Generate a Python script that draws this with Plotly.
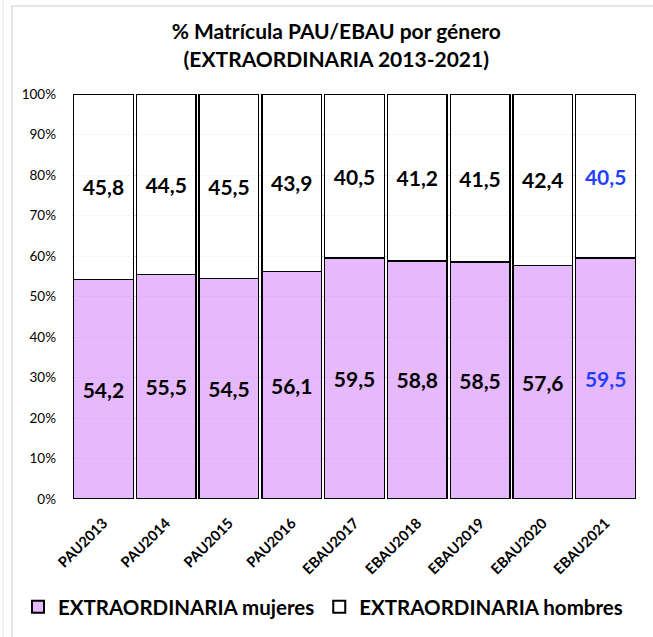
import plotly.graph_objects as go

categories = ["PAU2013", "PAU2014", "PAU2015", "PAU2016", "EBAU2017",
              "EBAU2018", "EBAU2019", "EBAU2020", "EBAU2021"]
mujeres = [54.2, 55.5, 54.5, 56.1, 59.5, 58.8, 58.5, 57.6, 59.5]
hombres = [45.8, 44.5, 45.5, 43.9, 40.5, 41.2, 41.5, 42.4, 40.5]
tick_vals = [0, 10, 20, 30, 40, 50, 60, 70, 80, 90, 100]
tick_text = [f"{v}%" for v in tick_vals]

label_colors = ["#000000"] * 8 + ["#1F3FFF"]

def fmt(v):
    return f"{v:.1f}".replace(".", ",")

FONT = "Lato"

fig = go.Figure()
fig.add_trace(go.Bar(
    x=categories, y=mujeres, name="<b>EXTRAORDINARIA mujeres</b>",
    marker=dict(color="rgba(226,172,251,0.85)", line=dict(color="#000000", width=1.3)),
    text=[fmt(v) for v in mujeres], texttemplate="<b>%{text}</b>",
    textposition="inside", insidetextanchor="middle",
    textfont=dict(family=FONT, size=21, color=label_colors),
    textangle=0, constraintext="none",
))
fig.add_trace(go.Bar(
    x=categories, y=hombres, name="<b>EXTRAORDINARIA hombres</b>",
    marker=dict(color="rgba(255,255,255,0.8)", line=dict(color="#000000", width=1.3)),
    text=[fmt(v) for v in hombres], texttemplate="<b>%{text}</b>",
    textposition="inside", insidetextanchor="middle",
    textfont=dict(family=FONT, size=21, color=label_colors),
    textangle=0, constraintext="none",
))

fig.update_layout(
    barmode="stack",
    bargap=0.05,
    width=653, height=637,
    paper_bgcolor="white", plot_bgcolor="white",
    margin=dict(l=72, r=16, t=94, b=138, autoexpand=False),
    title=dict(
        text="<b>% Matrícula PAU/EBAU por género<br>(EXTRAORDINARIA 2013-2021)</b>",
        x=0.515, xanchor="center", y=0.938, yanchor="top",
        font=dict(family=FONT, size=21, color="#000000"),
    ),
    font=dict(family=FONT, color="#000000"),
    legend=dict(
        orientation="h", x=(18 - 72) / 565, xanchor="left",
        y=-0.217, yanchor="top",
        font=dict(family=FONT, size=20.5, color="#000000"),
        itemsizing="constant", traceorder="normal", itemwidth=30,
    ),
    showlegend=True,
)
fig.update_yaxes(
    range=[0, 100], tickvals=tick_vals, ticktext=tick_text,
    showgrid=True, gridcolor="#d9d9d9", gridwidth=1,
    tickfont=dict(family=FONT, size=13.5, color="#000000"),
    zeroline=False, showline=False, ticks="", ticklabelstandoff=15,
    automargin=False,
)
fig.update_xaxes(
    tickangle=-45, tickfont=dict(family=FONT, size=14.5, color="#000000"),
    tickvals=categories, ticktext=[f"<b>{c}</b>" for c in categories],
    showline=False, ticks="", automargin=False, ticklabelshift=0,
    ticklabelstandoff=12,
)

# chart-area border (top and left edges visible in the reference)
fig.add_shape(type="line", xref="paper", yref="paper",
              x0=(12 - 72) / 565, x1=(653 - 72) / 565,
              y0=(499 - 6) / 405, y1=(499 - 6) / 405,
              line=dict(color="#cfcfcf", width=1))
fig.add_shape(type="line", xref="paper", yref="paper",
              x0=(12 - 72) / 565, x1=(12 - 72) / 565,
              y0=(499 - 637) / 405, y1=(499 - 6) / 405,
              line=dict(color="#cfcfcf", width=1))
fig.add_shape(type="line", xref="paper", yref="paper",
              x0=(3 - 72) / 565, x1=(3 - 72) / 565,
              y0=(499 - 637) / 405, y1=(499 - 0) / 405,
              line=dict(color="#e3e3e3", width=1))

fig.write_html("out.html", config={"displayModeBar": False},
               post_script="document.body.style.margin='0';")
